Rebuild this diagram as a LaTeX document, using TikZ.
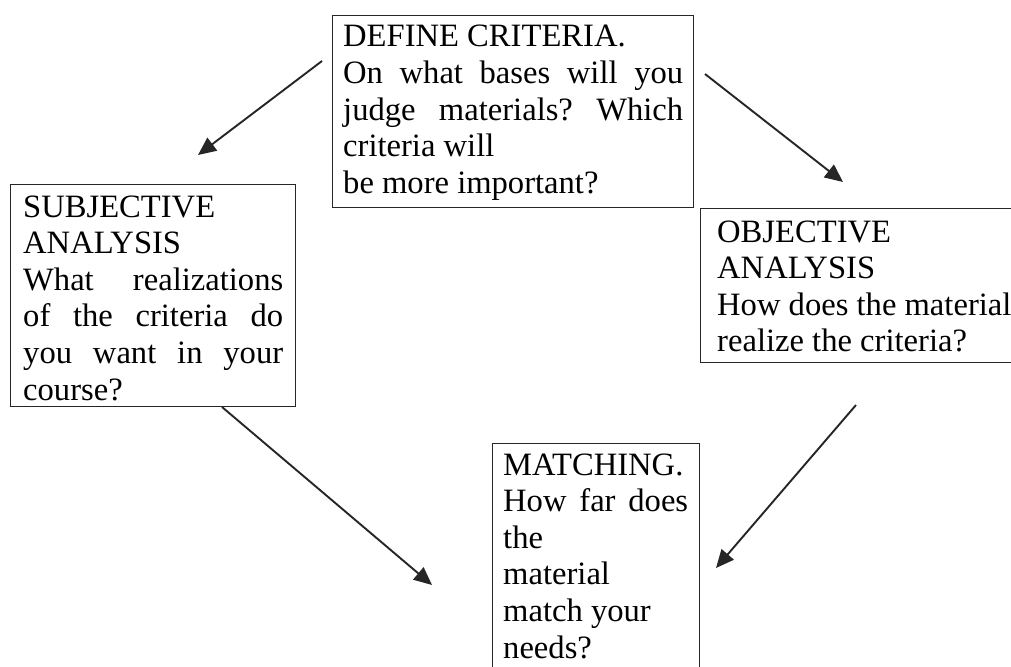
\documentclass[tikz,border=0pt]{standalone}
\usepackage{fontspec}
\setmainfont{Liberation Serif}
\usetikzlibrary{arrows.meta}
\newcommand\jl[1]{\makebox[\linewidth][s]{#1}}
\newcommand\bodyfont{\fontsize{32.6}{36.6}\selectfont\frenchspacing}
\begin{document}
\begin{tikzpicture}[x=1pt,y=-1pt,
  box/.style={draw=black!85, line width=1.4pt, anchor=north west, inner sep=0pt},
  txt/.style={anchor=base west, inner sep=0pt},
  arr/.style={draw=black!85, line width=1.9pt, -{Triangle[length=18pt,width=16pt]}}]
\clip (0,0) rectangle (1011,666);
\fill[white] (0,0) rectangle (1011,666);
% boxes
\node[box, minimum width=361pt, minimum height=192pt] (define) at (332,15) {};
\node[box, minimum width=285pt, minimum height=222pt] (subj) at (10,184) {};
\node[box, minimum width=320pt, minimum height=154pt] (obj) at (700,208) {};
\node[box, minimum width=207pt, minimum height=240pt] (match) at (492,443) {};
% texts
\node[txt] (definetxt) at (343,47) {\parbox[t]{340pt}{\bodyfont
  DEFINE CRITERIA.\\
  \jl{On what bases will you}\\
  \jl{judge materials? Which}\\
  criteria will\\
  be more important?}};
\node[txt] (subjtxt) at (23,217) {\parbox[t]{260pt}{\bodyfont
  SUBJECTIVE\\
  ANALYSIS\\
  \jl{What realizations}\\
  \jl{of the criteria do}\\
  \jl{you want in your}\\
  course?}};
\node[txt] (objtxt) at (717,242) {\parbox[t]{300pt}{\bodyfont
  OBJECTIVE\\
  ANALYSIS\\
  How does the material\\
  realize the criteria?}};
\node[txt] (matchtxt) at (503,475) {\parbox[t]{185pt}{\bodyfont
  MATCHING.\\
  \jl{How far does}\\
  the\\
  material\\
  match your\\
  needs?}};
% arrow end points
\coordinate (a1s) at (322,61);
\coordinate (a1e) at (198,155);
\coordinate (a2s) at (705,74);
\coordinate (a2e) at (843,182);
\coordinate (a3s) at (222,407);
\coordinate (a3e) at (432,585);
\coordinate (a4s) at (856,405);
\coordinate (a4e) at (716,568);
\draw[arr] (a1s) -- (a1e);
\draw[arr] (a2s) -- (a2e);
\draw[arr] (a3s) -- (a3e);
\draw[arr] (a4s) -- (a4e);
\end{tikzpicture}
\end{document}
